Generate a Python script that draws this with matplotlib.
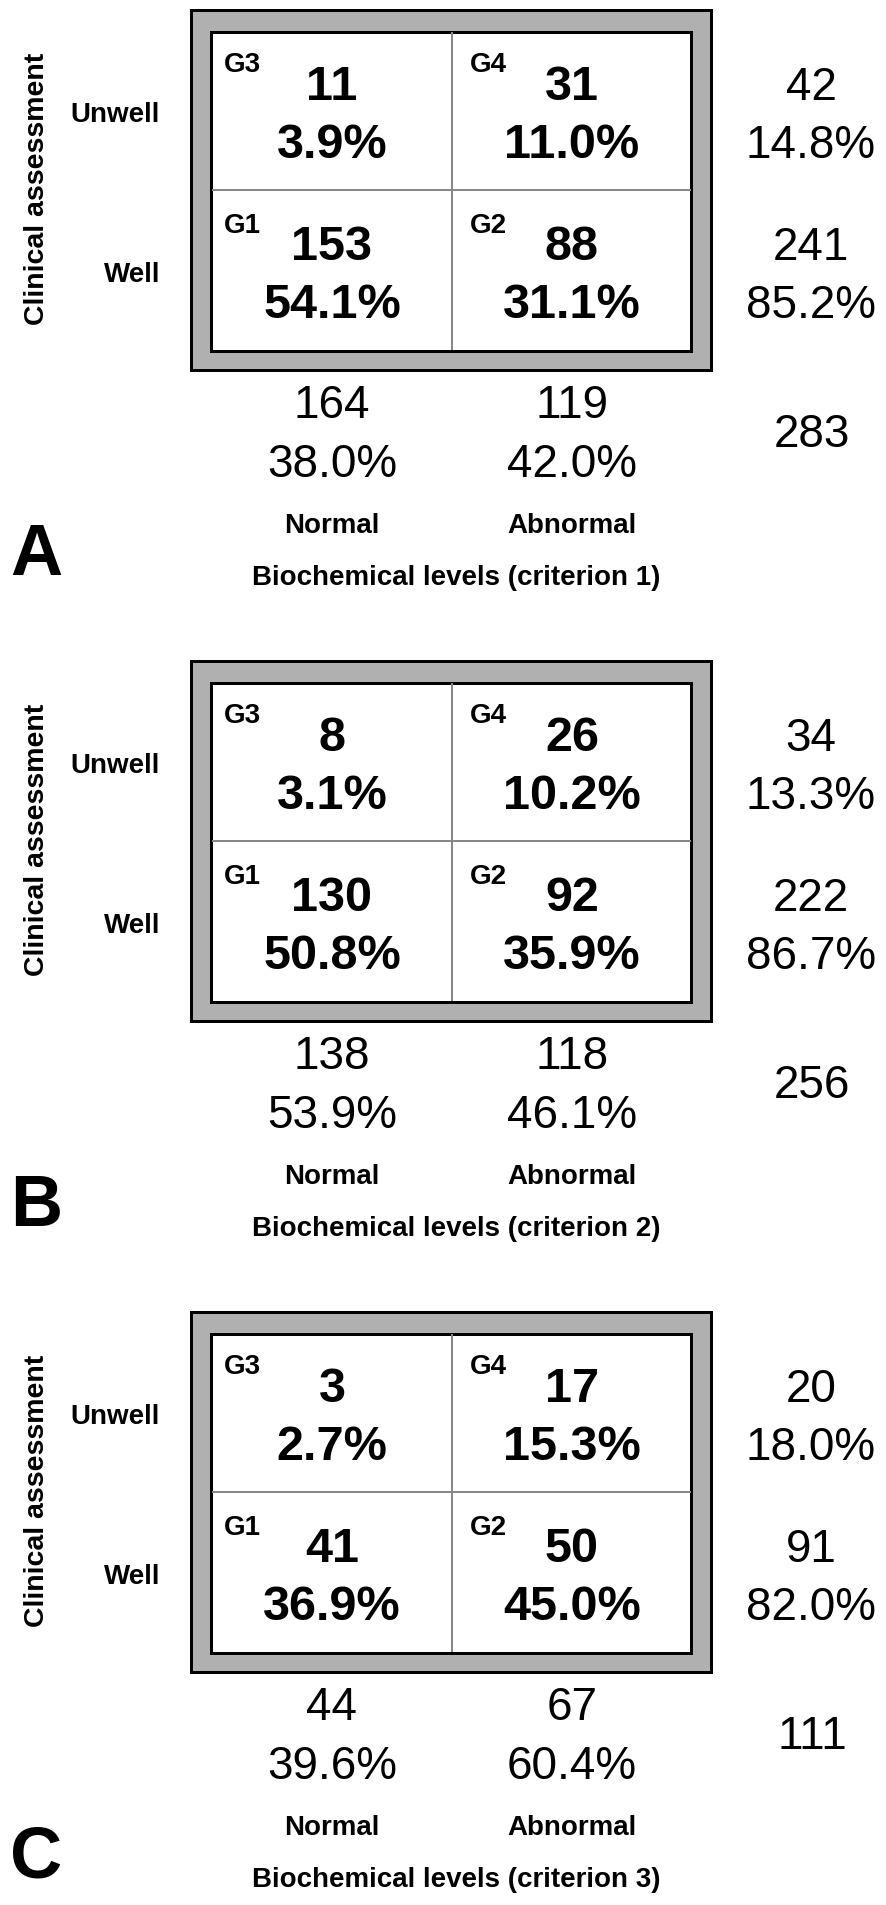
import matplotlib
matplotlib.use('Agg')
import matplotlib.pyplot as plt
from matplotlib.patches import Rectangle

plt.rcParams['font.family'] = ['Liberation Sans', 'DejaVu Sans']

# data
panel_letters = ['A', 'B', 'C']
criteria = ['Biochemical levels (criterion 1)',
            'Biochemical levels (criterion 2)',
            'Biochemical levels (criterion 3)']
row_labels = ['Unwell', 'Well']
col_labels = ['Normal', 'Abnormal']
group_labels = [['G3', 'G4'], ['G1', 'G2']]

cell_counts = [
    [[11, 31], [153, 88]],
    [[8, 26], [130, 92]],
    [[3, 17], [41, 50]],
]
cell_pcts = [
    [['3.9', '11.0'], ['54.1', '31.1']],
    [['3.1', '10.2'], ['50.8', '35.9']],
    [['2.7', '15.3'], ['36.9', '45.0']],
]
row_totals = [[42, 241], [34, 222], [20, 91]]
row_pcts = [['14.8', '85.2'], ['13.3', '86.7'], ['18.0', '82.0']]
col_totals = [[164, 119], [138, 118], [44, 67]]
col_pcts = [['38.0', '42.0'], ['53.9', '46.1'], ['39.6', '60.4']]
grand_totals = [283, 256, 111]

# figure in pixel coords
W, H = 886, 1905
fig = plt.figure(figsize=(W / 100, H / 100), dpi=100)
ax = fig.add_axes([0, 0, 1, 1])
ax.set_xlim(0, W)
ax.set_ylim(H, 0)
ax.axis('off')

px = 0.72  # px -> pt at 100 dpi
col_x = [332, 572]
gx = [224, 470]
num_y = [100, 260]
pct_y = [158, 318]
g_y = [72, 233]
lab_y = [122, 282]

for p in range(3):
    dy = p * 651

    # boxes
    ax.add_patch(Rectangle((191.5, 9.5 + dy), 520, 360, facecolor='#b0b0b0',
                           edgecolor='black', lw=3 * px, zorder=1))
    ax.add_patch(Rectangle((211.5, 31.5 + dy), 480, 319, facecolor='white',
                           edgecolor='black', lw=3 * px, zorder=2))
    ax.plot([452.5, 452.5], [33 + dy, 349 + dy], color='#888888', lw=2 * px, zorder=3)
    ax.plot([213, 690], [190 + dy, 190 + dy], color='#888888', lw=2 * px, zorder=3)

    for r in range(2):
        for c in range(2):
            ax.text(gx[c], g_y[r] + dy, group_labels[r][c], fontsize=20, fontweight='bold',
                    ha='left', va='baseline', zorder=4)
            ax.text(col_x[c], num_y[r] + dy, str(cell_counts[p][r][c]), fontsize=35,
                    fontweight='bold', ha='center', va='baseline', zorder=4)
            ax.text(col_x[c], pct_y[r] + dy, cell_pcts[p][r][c] + '%', fontsize=35,
                    fontweight='bold', ha='center', va='baseline', zorder=4)
        # row labels and totals
        ax.text(160, lab_y[r] + dy, row_labels[r], fontsize=20, fontweight='bold',
                ha='right', va='baseline')
        ax.text(811, num_y[r] + dy, str(row_totals[p][r]), fontsize=33,
                ha='center', va='baseline')
        ax.text(811, pct_y[r] + dy, row_pcts[p][r] + '%', fontsize=33,
                ha='center', va='baseline')

    for c in range(2):
        ax.text(col_x[c], 418 + dy, str(col_totals[p][c]), fontsize=33,
                ha='center', va='baseline')
        ax.text(col_x[c], 477 + dy, col_pcts[p][c] + '%', fontsize=33,
                ha='center', va='baseline')
        ax.text(col_x[c], 533 + dy, col_labels[c], fontsize=20, fontweight='bold',
                ha='center', va='baseline')

    ax.text(812, 447 + dy, str(grand_totals[p]), fontsize=33, ha='center', va='baseline')
    ax.text(37, 189 + dy, 'Clinical assessment', fontsize=20.5, fontweight='bold',
            rotation=90, ha='center', va='center')
    ax.text(456, 585 + dy, criteria[p], fontsize=20, fontweight='bold',
            ha='center', va='baseline')
    ax.text(10, 575 + dy, panel_letters[p], fontsize=52, fontweight='bold',
            ha='left', va='baseline')

fig.savefig('out.png', dpi=100, facecolor='white')
